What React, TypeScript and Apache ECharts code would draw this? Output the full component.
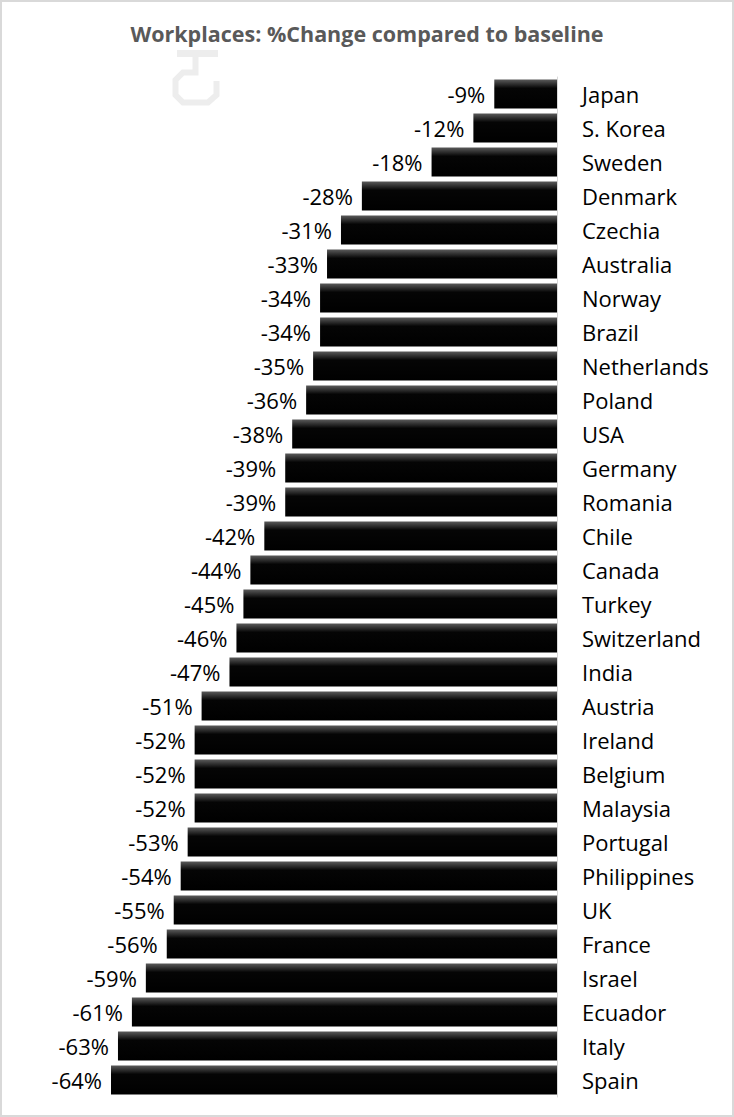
import React, { useEffect, useRef } from "react";
import * as echarts from "echarts";

const countries = [
  "Japan", "S. Korea", "Sweden", "Denmark", "Czechia", "Australia", "Norway", "Brazil",
  "Netherlands", "Poland", "USA", "Germany", "Romania", "Chile", "Canada", "Turkey",
  "Switzerland", "India", "Austria", "Ireland", "Belgium", "Malaysia", "Portugal",
  "Philippines", "UK", "France", "Israel", "Ecuador", "Italy", "Spain",
];
const changes = [
  -9, -12, -18, -28, -31, -33, -34, -34, -35, -36, -38, -39, -39, -42, -44, -45,
  -46, -47, -51, -52, -52, -52, -53, -54, -55, -56, -59, -61, -63, -64,
];
const titleText = "Workplaces: %Change compared to baseline";

export default function App() {
  const ref = useRef<HTMLDivElement>(null);
  useEffect(() => {
    if (!ref.current) return;
    const chart = echarts.init(ref.current, undefined, { renderer: "svg" });
    const font = "'Open Sans', 'Noto Sans', sans-serif";
    chart.setOption({
      animation: false,
      backgroundColor: "#ffffff",
      title: {
        text: titleText,
        left: "center",
        top: 17,
        textStyle: { fontFamily: font, fontSize: 21.5, fontWeight: "bold", color: "#595959" },
      },
      graphic: [
        {
          type: "rect",
          shape: { x: 1, y: 1, width: 732, height: 1115 },
          style: { fill: "none", stroke: "#d9d9d9", lineWidth: 2 },
          silent: true,
        },
        {
          type: "polyline",
          shape: { points: [[177, 53.5], [218, 53.5]] },
          style: { stroke: "#ededed", lineWidth: 7, fill: "none" },
          silent: true,
        },
        {
          type: "polyline",
          shape: {
            points: [
              [195.5, 53], [195.5, 72.5], [183, 72.5], [175.5, 80], [175.5, 95],
              [183, 102.5], [208, 102.5], [216.5, 95], [216.5, 81],
            ],
          },
          style: { stroke: "#ededed", lineWidth: 6, fill: "none", lineJoin: "miter" },
          silent: true,
        },
      ],
      grid: { left: 111, right: 177, top: 77, bottom: 20, containLabel: false },
      xAxis: {
        type: "value",
        min: -64,
        max: 0,
        show: false,
      },
      yAxis: {
        type: "category",
        data: countries,
        inverse: true,
        position: "right",
        axisLine: { show: true, lineStyle: { color: "#d9d9d9", width: 1 } },
        axisTick: { show: false },
        axisLabel: {
          margin: 25,
          align: "left",
          fontFamily: font,
          fontSize: 22,
          color: "#000000",
        },
      },
      series: [
        {
          type: "bar",
          data: changes,
          barCategoryGap: "15%",
          itemStyle: {
            color: new echarts.graphic.LinearGradient(0, 0, 0, 1, [
              { offset: 0, color: "#5a5a5a" },
              { offset: 0.3, color: "#050505" },
              { offset: 1, color: "#000000" },
            ]),
          },
          label: {
            show: true,
            position: "left",
            distance: 9,
            formatter: (p: any) => `${p.value}%`,
            fontFamily: font,
            fontSize: 22,
            color: "#000000",
          },
        },
      ],
    });
    return () => chart.dispose();
  }, []);
  return (
    <div
      ref={ref}
      style={{ position: "absolute", left: 0, top: 0, width: 734, height: 1117 }}
    />
  );
}
